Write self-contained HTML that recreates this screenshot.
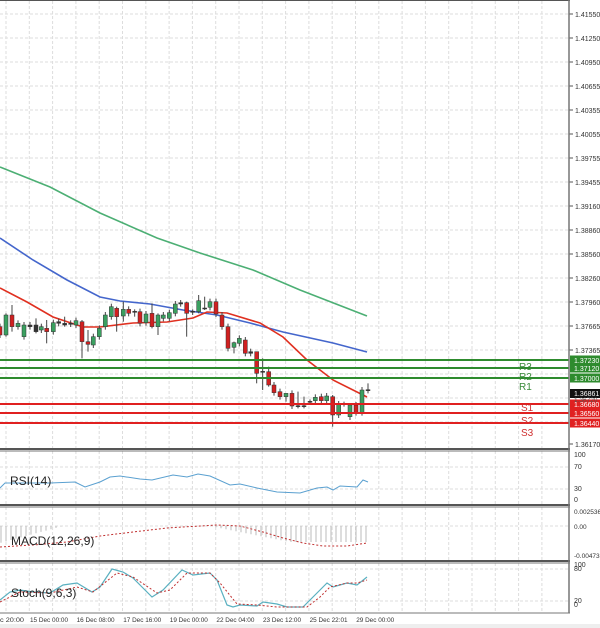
<!DOCTYPE html>
<html><head><meta charset="utf-8"><style>
body{margin:0;background:#fff;width:600px;height:628px;overflow:hidden}
svg{display:block;font-family:"Liberation Sans",sans-serif}
</style></head><body>
<svg id="s" width="600" height="628" xmlns="http://www.w3.org/2000/svg"></svg>
<script>
const s=document.getElementById('s');let h='';
function L(x1,y1,x2,y2,c,w,d){h+=`<line x1="${x1}" y1="${y1}" x2="${x2}" y2="${y2}" stroke="${c}" stroke-width="${w||1}" ${d?`stroke-dasharray="${d}"`:''}/>`}
function T(x,y,t,c,sz,a,tl){h+=`<text x="${x}" y="${y}" fill="${c}" font-size="${sz}" ${a?`text-anchor="${a}"`:''} ${tl?`textLength="${tl}" lengthAdjust="spacingAndGlyphs"`:''}>${t}</text>`}
function P(pts,c,w,d){h+=`<polyline points="${pts.map(p=>p[0]+','+p[1]).join(' ')}" fill="none" stroke="${c}" stroke-width="${w}" ${d?`stroke-dasharray="${d}"`:''}/>`}
// grid
const panels=[[1,449],[451,505],[507,561],[563,613]];
for(let k=0;k<24;k++){let x=6+23.3*k;panels.forEach(p=>L(x,p[0],x,p[1],'#ddd',1,'3,2'));}
for(let k=0;k<18;k++){let y=14+24*k;if(y<447)L(0,y,569,y,'#ddd',1,'3,2');}
[467,489].forEach(y=>L(0,y,569,y,'#ddd',1,'3,2'));L(0,526,569,526,'#ddd',1,'3,2');
[569,601].forEach(y=>L(0,y,569,y,'#ddd',1,'3,2'));
// price labels
const pl=['1.41550','1.41250','1.40950','1.40655','1.40355','1.40055','1.39755','1.39455','1.39160','1.38860','1.38560','1.38260','1.37960','1.37665','1.37365'];
pl.forEach((t,i)=>{let y=14+24*i;L(569,y,573,y,'#555');T(575,y+3,t,'#333',7);});
L(569,444,573,444,'#555');T(575,447,'1.36170','#333',7);
// MAs
P([[0,167],[50,187],[100,213],[157,238],[200,253],[253,270],[300,290],[367,316]],'#4caf74',1.6);
P([[0,238],[33,260],[67,280],[100,297],[120,301],[150,304],[183,310],[217,315],[250,323],[283,332],[333,343],[367,352]],'#4466cc',1.6);
P([[0,288],[27,302],[53,317],[83,327],[100,327],[133,323],[167,322],[193,318],[207,312],[227,313],[260,323],[283,337],[307,360],[333,380],[367,397]],'#e03020',1.6);
// candles
const C=[[0,530,555,'r'],[18,495,555,'g',490,560],[36,495,530,'r',465,545],[54,520,530,'g'],[72,525,560,'g'],[90,525,530,'n'],[108,525,545,'n',505,550],[124,530,540,'g'],[140,535,545,'r',510,580],[160,518,545,'g'],[176,515,520,'n'],[194,520,525,'n',500,530],[212,520,522,'n'],[228,512,525,'g'],[246,515,575,'r',510,625],[264,575,583,'r',540,605],[280,560,585,'g'],[298,535,560,'g'],[316,495,530,'g'],[334,470,500,'g'],[350,475,500,'r',470,545],[370,478,498,'g',455,515],[386,478,490,'r'],[404,484,487,'n',478,500],[420,485,520,'r'],[438,492,518,'g'],[456,490,530,'r',460,535],[474,495,530,'g',490,555],[490,495,505,'g'],[508,488,505,'g'],[526,462,490,'g'],[542,458,462,'n',450,470],[560,458,490,'r',455,560],[578,484,487,'n',478,495],[596,452,485,'g',435,490],[614,474,477,'n',440,480],[630,455,472,'g'],[648,455,492,'r'],[666,495,530,'r'],[684,530,595,'r'],[702,578,592,'g',575,610],[718,565,580,'g'],[736,570,610,'r'],[752,605,610,'n'],[770,605,670,'r',605,700],[788,664,667,'n',625,720],[806,665,705,'r',650,710],[822,705,728,'r'],[840,725,740,'r'],[858,730,740,'g',730,755],[876,730,768,'r'],[894,767,770,'n',725,775],[912,767,770,'n',740,775],[930,754,757,'n',748,762],[946,742,752,'g'],[964,740,752,'r'],[980,738,752,'g'],[998,740,795,'r',735,830],[1016,762,795,'g'],[1032,761,764,'n',755,770],[1050,765,800,'g',760,810],[1068,765,788,'r'],[1086,720,788,'g'],[1104,719,722,'n',700,730]];
C.forEach(c=>{let x=c[0]/3,t=150+c[1]/3,b=150+c[2]/3,wt=c[4]?150+c[4]/3:t-3,wb=c[5]?150+c[5]/3:b+3;
L(x,wt,x,wb,'#444',1);
let col=c[3]=='g'?'#3aa060':c[3]=='r'?'#d02020':'#333';
h+=`<rect x="${x-2}" y="${t}" width="4" height="${Math.max(1,b-t)}" fill="${col}" stroke="#333" stroke-width="0.5"/>`;});
// levels
[[360,'#2e8b2e','1.37230'],[368,'#2e8b2e','1.37120'],[378,'#2e8b2e','1.37000'],[404,'#e02020','1.36680'],[413,'#e02020','1.36560'],[423,'#e02020','1.36440']].forEach(l=>{
L(0,l[0],569,l[0],l[1],2);h+=`<rect x="570" y="${l[0]-4.5}" width="30" height="9" fill="${l[1]}"/>`;T(574,l[0]+3,l[2],'#fff',7);});
h+=`<rect x="570" y="389" width="30" height="9" fill="#111"/>`;T(574,396,'1.36861','#fff',7);
T(574,402,'1.36720','#555',6.5);
T(519,370,'R3','#3a8a3a',10);T(519,380,'R2','#3a8a3a',10);T(519,390,'R1','#3a8a3a',10);
T(521,411,'S1','#d03030',10);T(521,424,'S2','#d03030',10);T(521,436,'S3','#d03030',10);
// panel borders
[[0,2],[449,2],[451,1],[505,2],[507,1],[561,2],[563,1],[613,1]].forEach(b=>L(0,b[0],570,b[0],b[1]==2?'#555':'#777',b[1]));
L(569,0,569,613,'#777',1.5);
// RSI
P([[0,488],[5,483],[20,483],[50,483],[75,482],[85,487],[100,482],[110,477],[120,476],[140,479],[152,480],[173,475],[187,477],[198,474],[210,476],[230,485],[240,484],[257,488],[277,492],[300,493],[317,488],[327,487],[333,490],[340,486],[357,487],[363,480],[368,482]],'#5aa0d0',1);
T(10,485,'RSI(14)','#222',12);
[[455,'100'],[467,'70'],[489,'30'],[500,'0']].forEach(l=>T(574,l[0]+2,l[1],'#333',7));
// MACD histogram
function hv(x){if(x<65)return Math.max(0,17-x*0.27);if(x<210)return 0;if(x<290)return (x-210)*0.2;return 16;}
for(let x=1;x<=368;x+=5){let v=hv(x);if(v>0.5)L(x,526,x,526+v,'#bbb',1);}
P([[0,547],[33,545],[67,542],[100,536],[133,532],[167,528],[200,526],[217,525],[240,526],[263,532],[283,538],[303,543],[323,546],[347,546],[367,543]],'#c03030',1,'2,2');
T(11,545,'MACD(12,26,9)','#222',12);
[[512,'0.002536'],[527,'0.00'],[556,'-0.004736']].forEach(l=>T(574,l[0]+2,l[1],'#333',6.5));
// Stoch
P([[0,600],[10,592],[20,590],[33,592],[50,593],[63,585],[77,583],[92,592],[100,587],[112,569],[123,572],[133,578],[152,597],[163,590],[182,570],[193,575],[210,573],[217,580],[227,605],[233,607],[240,605],[257,606],[263,602],[277,604],[287,607],[303,607],[317,593],[327,583],[333,587],[347,583],[357,585],[367,577]],'#5ab0c0',1.2);
P([[0,602],[20,592],[50,593],[77,587],[93,592],[117,573],[133,577],[157,593],[170,590],[187,573],[210,573],[220,583],[237,604],[257,605],[277,607],[307,607],[320,597],[330,587],[347,583],[357,583],[367,580]],'#c03030',1,'2,2');
T(11,597,'Stoch(9,6,3)','#222',12);
[[565,'100'],[569,'80'],[601,'20'],[605,'0']].forEach(l=>T(574,l[0]+2,l[1],'#333',7));
// dates
T(0,622,'c 20:00','#333',6.5,null,24);
['15 Dec 00:00','16 Dec 08:00','17 Dec 16:00','19 Dec 00:00','22 Dec 04:00','23 Dec 12:00','25 Dec 22:01','29 Dec 00:00'].forEach((d,i)=>T(30+i*46.6,622,d,'#333',6.5,null,38));
h+=`<rect x="0" y="624" width="600" height="4" fill="#eee"/>`;
s.innerHTML=h;
</script>
</body></html>
